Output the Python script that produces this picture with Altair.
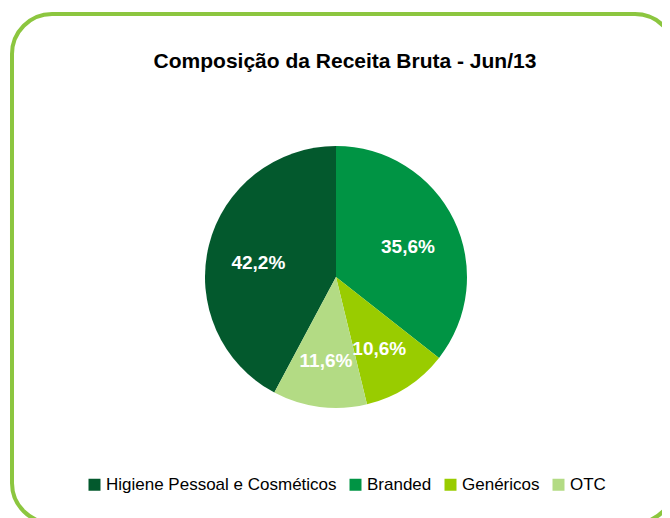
import altair as alt
import pandas as pd

categories = ["Higiene Pessoal e Cosméticos", "Branded", "Genéricos", "OTC"]
values = [42.2, 35.6, 10.6, 11.6]
labels = ["42,2%", "35,6%", "10,6%", "11,6%"]
slice_order = [4, 1, 2, 3]
colors = ["#03592D", "#009444", "#99CC00", "#B3DB84"]

df = pd.DataFrame({"cat": categories, "val": values, "lab": labels, "ord": slice_order})

font = "Liberation Sans"

border = alt.Chart(pd.DataFrame({"a": [0]})).mark_rect(
    fill="white", stroke="#8CC63F", strokeWidth=4, cornerRadius=40
).encode(x=alt.value(4), x2=alt.value(667), y=alt.value(6), y2=alt.value(515))

color = alt.Color(
    "cat:N",
    scale=alt.Scale(domain=categories, range=colors),
    legend=alt.Legend(
        title=None, orient="none", direction="horizontal", legendX=78, legendY=468,
        symbolType="square", symbolSize=144, symbolStrokeWidth=0, labelFont=font,
        labelFontSize=17, labelColor="#000000", columnPadding=10, labelOffset=3,
        symbolOpacity=1, labelLimit=400,
    ),
)

base = alt.Chart(df).encode(
    theta=alt.Theta("val:Q", stack=True),
    order=alt.Order("ord:Q"),
    x=alt.value(328), y=alt.value(269),
)

pie = base.mark_arc(radius=131).encode(color=color)
text = base.mark_text(radius=80, dy=5, font=font, fontSize=19, fontWeight="bold", color="white").encode(
    text="lab:N"
)

chart = alt.layer(border, pie, text).properties(
    width=654, height=510, padding=0,
    autosize=alt.AutoSizeParams(type="none"),
    title=alt.TitleParams(
        "Composição da Receita Bruta - Jun/13", font=font, fontSize=21, fontWeight="bold",
        color="#000000", anchor="middle", offset=-64, dx=10,
    ),
).configure_view(stroke=None)

chart.save("out.html", embed_options={"renderer": "svg", "actions": False})
